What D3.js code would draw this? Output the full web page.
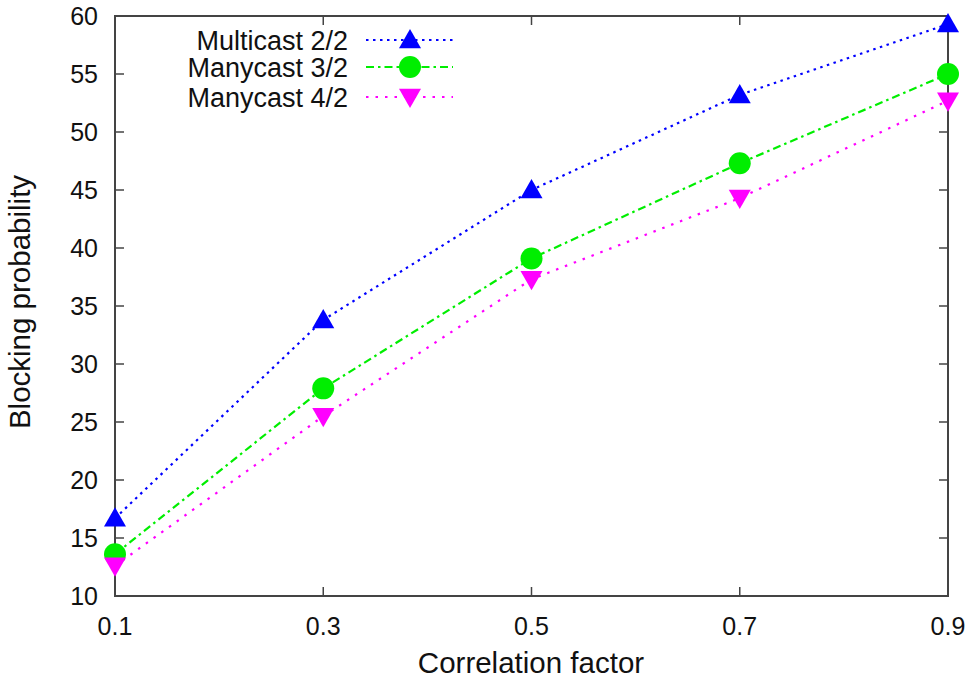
<!DOCTYPE html>
<html>
<head>
<meta charset="utf-8">
<script src="https://cdn.jsdelivr.net/npm/d3@7"></script>
<style>
  body { margin: 0; background: #fff; }
  svg text { font-family: "Liberation Sans", Arial, sans-serif; fill: #111; }
</style>
</head>
<body>
<svg id="chart"></svg>
<script>
const xValues = [0.1, 0.3, 0.5, 0.7, 0.9];
const multicast22 = [16.7, 33.8, 45.0, 53.2, 59.3];
const manycast32 = [13.6, 27.9, 39.1, 47.3, 55.0];
const manycast42 = [12.6, 25.5, 37.3, 44.3, 52.7];
const seriesNames = ["Multicast 2/2", "Manycast 3/2", "Manycast 4/2"];
const yTicks = [10, 15, 20, 25, 30, 35, 40, 45, 50, 55, 60];

const width = 973, height = 681;
const pLeft = 115, pRight = 948, pTop = 16, pBottom = 596;

const svg = d3.select("#chart").attr("width", width).attr("height", height);

const x = d3.scaleLinear().domain([0.1, 0.9]).range([pLeft, pRight]);
const y = d3.scaleLinear().domain([10, 60]).range([pBottom, pTop]);

// ticks (inward, mirrored)
const tickLen = 9;
const axisColor = "#444";
const g = svg.append("g");
yTicks.forEach(v => {
  g.append("line").attr("x1", pLeft).attr("x2", pLeft + tickLen).attr("y1", y(v)).attr("y2", y(v)).attr("stroke", axisColor).attr("stroke-width", 1.5);
  g.append("line").attr("x1", pRight).attr("x2", pRight - tickLen).attr("y1", y(v)).attr("y2", y(v)).attr("stroke", axisColor).attr("stroke-width", 1.5);
  g.append("text").attr("x", pLeft - 17).attr("y", y(v)).attr("dy", "0.36em").attr("text-anchor", "end").attr("font-size", 25).text(v);
});
xValues.forEach(v => {
  g.append("line").attr("x1", x(v)).attr("x2", x(v)).attr("y1", pBottom).attr("y2", pBottom - tickLen).attr("stroke", axisColor).attr("stroke-width", 1.5);
  g.append("line").attr("x1", x(v)).attr("x2", x(v)).attr("y1", pTop).attr("y2", pTop + tickLen).attr("stroke", axisColor).attr("stroke-width", 1.5);
  g.append("text").attr("x", x(v)).attr("y", 626).attr("dy", "0.36em").attr("text-anchor", "middle").attr("font-size", 25).text(d3.format(".1f")(v));
});

// frame
svg.append("rect").attr("x", pLeft).attr("y", pTop).attr("width", pRight - pLeft).attr("height", pBottom - pTop)
  .attr("fill", "none").attr("stroke", axisColor).attr("stroke-width", 2);

// axis labels
svg.append("text").attr("x", 531).attr("y", 662).attr("dy", "0.36em").attr("text-anchor", "middle").attr("font-size", 29.5).text("Correlation factor");
svg.append("text").attr("transform", `translate(19,302) rotate(-90)`).attr("dy", "0.36em").attr("text-anchor", "middle").attr("font-size", 29.5).text("Blocking probability");

const series = [
  { name: seriesNames[0], values: multicast22, color: "#0000ff", dash: "2.5,4.5", marker: "up" },
  { name: seriesNames[1], values: manycast32, color: "#00ee00", dash: "8,4,2.5,4", marker: "circle" },
  { name: seriesNames[2], values: manycast42, color: "#ff00ff", dash: "2.5,7", marker: "down" }
];

const line = d3.line().x((d, i) => x(xValues[i])).y(d => y(d));

function drawMarker(sel, type, cx, cy, color) {
  if (type === "circle") {
    sel.append("circle").attr("cx", cx).attr("cy", cy).attr("r", 11).attr("fill", color);
  } else {
    const s = 11;
    const pts = type === "up"
      ? [[cx, cy - s], [cx - s, cy + s * 0.75], [cx + s, cy + s * 0.75]]
      : [[cx, cy + s], [cx - s, cy - s * 0.75], [cx + s, cy - s * 0.75]];
    sel.append("polygon").attr("points", pts.map(p => p.join(",")).join(" ")).attr("fill", color);
  }
}

const plot = svg.append("g");
series.forEach(s => {
  plot.append("path").datum(s.values).attr("d", line).attr("fill", "none")
    .attr("stroke", s.color).attr("stroke-width", 2.2).attr("stroke-dasharray", s.dash);
});
series.forEach(s => {
  s.values.forEach((v, i) => drawMarker(plot, s.marker, x(xValues[i]), y(v), s.color));
});

// legend
const legendY = [40, 67, 97];
series.forEach((s, i) => {
  const ly = legendY[i];
  svg.append("text").attr("x", 348).attr("y", ly).attr("dy", "0.36em").attr("text-anchor", "end").attr("font-size", 27).text(s.name);
  svg.append("line").attr("x1", 366).attr("x2", 453).attr("y1", ly).attr("y2", ly)
    .attr("stroke", s.color).attr("stroke-width", 2.2).attr("stroke-dasharray", s.dash);
  drawMarker(svg, s.marker, 410, ly, s.color);
});
</script>
</body>
</html>
